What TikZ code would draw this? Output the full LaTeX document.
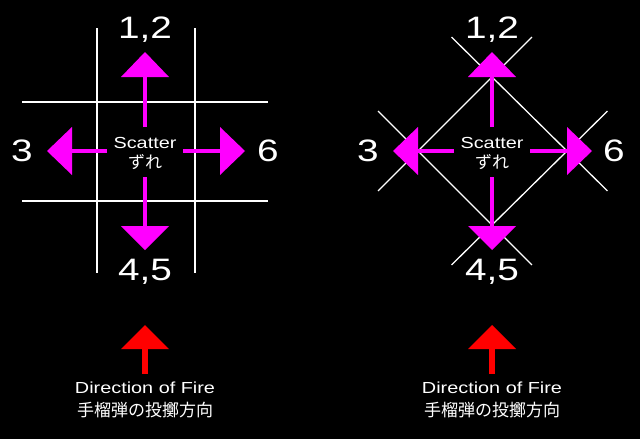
\documentclass[tikz,border=0pt]{standalone}
\usepackage{fontspec}
\usetikzlibrary{calc}
\setmainfont{Liberation Sans}
\newfontfamily\jp{Noto Sans CJK JP}
\begin{document}
\begin{tikzpicture}[x=1pt,y=-1pt,
  wl/.style={white,line width=1.3pt},
  mag/.style={fill={rgb,255:red,255;green,0;blue,255}},
  shaft/.style={draw={rgb,255:red,255;green,0;blue,255},line width=4.5pt},
  big/.style={white,inner sep=0pt,font=\fontsize{31}{31}\selectfont,xscale=1.25},
  sm/.style={white,inner sep=0pt,font=\fontsize{16}{16}\selectfont,xscale=1.24},
  smj/.style={white,inner sep=0pt,font=\jp\fontsize{17}{17}\selectfont}]
\fill[black] (0,0) rectangle (640,439);
\useasboundingbox (0,0) rectangle (640,439);
% left grid
\draw[wl] (97,28) -- (97,273);
\draw[wl] (195,28) -- (195,273);
\draw[wl] (22,102) -- (268,102);
\draw[wl] (22,201) -- (268,201);
% right diamond
\coordinate (T) at (492,77); \coordinate (L) at (418,151);
\coordinate (R) at (567,151); \coordinate (B) at (492,225);
\draw[wl] ($(T)!-0.54!(L)$) -- ($(L)!-0.54!(T)$);
\draw[wl] ($(T)!-0.54!(R)$) -- ($(R)!-0.54!(T)$);
\draw[wl] ($(B)!-0.54!(L)$) -- ($(L)!-0.54!(B)$);
\draw[wl] ($(B)!-0.54!(R)$) -- ($(R)!-0.54!(B)$);
% magenta arrows
\foreach \cx/\lx/\rx in {145/47/245, 492/393/592}{
  \draw[shaft] (\cx,127) -- (\cx,76);
  \fill[mag] (\cx,52) -- (\cx-24,77) -- (\cx+24,77) -- cycle;
  \draw[shaft] (\cx,177) -- (\cx,227);
  \fill[mag] (\cx,250) -- (\cx-24,226) -- (\cx+24,226) -- cycle;
  \draw[shaft] (\cx-38,151) -- (\lx+24,151);
  \fill[mag] (\lx,151) -- (\lx+25,127) -- (\lx+25,175) -- cycle;
  \draw[shaft] (\cx+38,151) -- (\rx-24,151);
  \fill[mag] (\rx,151) -- (\rx-25,127) -- (\rx-25,175) -- cycle;
  \node[sm] at (\cx,143) {Scatter};
  \node[smj] at (\cx,162) {ずれ};
  \fill[red] (\cx,325) -- (\cx-24,349) -- (\cx+24,349) -- cycle;
  \fill[red] (\cx-3,348) rectangle (\cx+3,374);
  \node[sm] at (\cx,388) {Direction of Fire};
  \node[smj] at (\cx,410) {手榴弾の投擲方向};
  \node[big] at (\cx,30) {1,2};
  \node[big] at (\cx,272) {4,5};
}
\node[big] at (22,151) {3};
\node[big] at (268,151) {6};
\node[big] at (368,151) {3};
\node[big] at (614,151) {6};
\end{tikzpicture}
\end{document}
